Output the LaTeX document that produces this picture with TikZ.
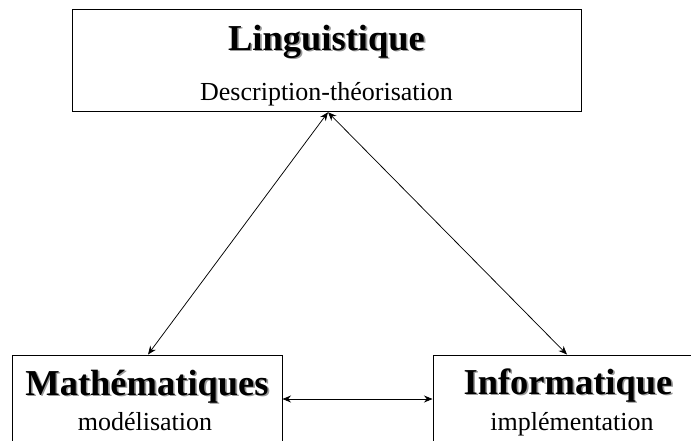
\documentclass[tikz,border=0pt]{standalone}
\usepackage{fontspec}
\setmainfont{Liberation Serif}
\usetikzlibrary{arrows.meta}
\newcommand{\shadowed}[1]{\makebox[0pt][l]{\hspace{1.6pt}\raisebox{-1.6pt}{\textcolor{black!40}{#1}}}#1}
\tikzset{
  box/.style={draw=black, line width=1pt, rectangle, inner sep=0pt},
  titletext/.style={anchor=base, inner sep=0pt, font=\fontsize{36.5}{40}\selectfont\bfseries},
  subtext/.style={anchor=base, inner sep=0pt, font=\fontsize{26}{30}\selectfont},
  link/.style={line width=0.75pt, {Stealth[length=8.5pt,width=7pt]}-{Stealth[length=8.5pt,width=7pt]}}
}
\begin{document}
\begin{tikzpicture}[x=1pt,y=-1pt]
\useasboundingbox (0,0) rectangle (691,440);
\clip (0,0) rectangle (691,440);
\node[box, minimum width=509pt, minimum height=102.5pt] (ling) at (326.5,60.5) {};
\node[box, minimum width=270pt, minimum height=120pt] (mat) at (147,415) {};
\node[box, minimum width=270pt, minimum height=120pt] (info) at (568,415) {};
\node[titletext] (lingt) at (326.5,50) {\shadowed{Linguistique}};
\node[subtext] (lings) at (326.5,100) {Description-théorisation};
\node[titletext] (matt) at (147,395) {\shadowed{Mathématiques}};
\node[subtext] (mats) at (145,430) {modélisation};
\node[titletext] (infot) at (568,394) {\shadowed{Informatique}};
\node[subtext] (infos) at (572,430) {implémentation};
\draw[link] ([xshift=1.5pt]ling.south) -- ([xshift=1pt]mat.north);
\draw[link] ([xshift=1.5pt]ling.south) -- ([xshift=-1pt]info.north);
\draw[link] ([yshift=16pt]mat.east) -- ([yshift=16pt]info.west);
\end{tikzpicture}
\end{document}
